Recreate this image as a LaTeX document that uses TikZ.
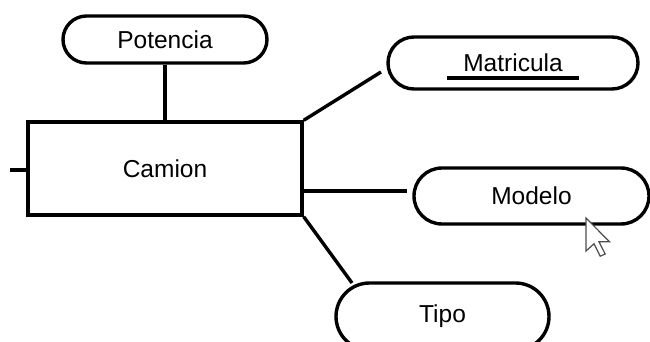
\documentclass[tikz,border=0pt]{standalone}
\usepackage{fontspec}
\setmainfont{Liberation Sans}
\usetikzlibrary{shapes.misc,calc}
\begin{document}
\begin{tikzpicture}[x=1pt,y=-1pt,
  attr/.style={draw=black, line width=3.4pt, rounded rectangle, inner sep=0pt, font=\fontsize{24.5}{28}\selectfont},
  entity/.style={draw=black, line width=3.4pt, rectangle, inner sep=0pt, font=\fontsize{24.5}{28}\selectfont},
  conn/.style={line width=3.4pt, black}]
\useasboundingbox[fill=white] (0,0) rectangle (650,342);
\node[entity, minimum width=274pt, minimum height=93pt] (cam) at (165,168.5) {Camion};
\node[attr, minimum width=204pt, minimum height=47pt] (pot) at (165,39.5) {Potencia};
\node[attr, minimum width=250pt, minimum height=52pt] (mat) at (513,63) {Matricula};
\node[attr, minimum width=235pt, minimum height=56pt] (mod) at (531.5,196) {Modelo};
\node[attr, minimum width=213pt, minimum height=67pt] (tip) at (442.5,316.5) {Tipo};
\coordinate (matend) at (381,72);
\coordinate (modend) at (407,191);
\coordinate (leftend) at (10,170);
\draw[conn] (pot.south) -- (pot.south |- cam.north);
\draw[conn] (cam.north east) -- (matend);
\draw[conn] (cam.east |- modend) -- (modend);
\draw[conn] (cam.south east) -- (352,283);
\draw[conn] (leftend) -- (cam.west |- leftend);
\draw[conn] ($(mat.center)+(-66,15)$) -- ($(mat.center)+(66,15)$);
\draw[fill=white, draw=black!70, line width=1.2pt, line join=miter] (586,218) -- ++(0,33) -- ++(8,-7.2) -- ++(6.2,12.4) -- ++(5,-2.2) -- ++(-6.2,-12.2) -- ++(10.5,0) -- cycle;
\end{tikzpicture}
\end{document}
